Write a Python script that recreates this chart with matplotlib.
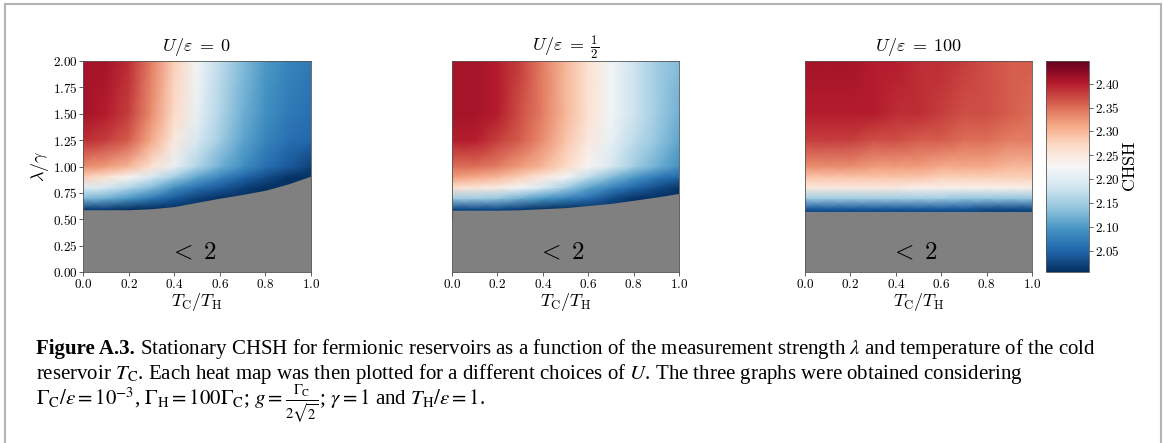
import matplotlib

matplotlib.use("Agg")
import matplotlib.pyplot as plt
import numpy as np
from matplotlib.colors import Normalize
from matplotlib.lines import Line2D

plt.rcParams["font.family"] = "serif"
plt.rcParams["font.serif"] = ["cmr10", "DejaVu Serif"]
plt.rcParams["mathtext.fontset"] = "cm"
plt.rcParams["axes.formatter.use_mathtext"] = True

t_ratio = [0.0, 0.1, 0.2, 0.3, 0.4, 0.5, 0.6, 0.7, 0.8, 0.9, 1.0]
lam = [0.5, 0.6, 0.7, 0.8, 0.9, 1.0, 1.25, 1.5, 2.0]

# CHSH, one row per lambda (bottom to top)
chsh_u0 = [
    [1.95, 1.95, 1.95, 1.95, 1.95, 1.95, 1.95, 1.95, 1.95, 1.95, 1.95],
    [2.02, 2.02, 2.01, 2.00, 1.98, 1.96, 1.95, 1.95, 1.95, 1.95, 1.95],
    [2.13, 2.12, 2.10, 2.07, 2.04, 2.02, 2.00, 1.98, 1.96, 1.95, 1.95],
    [2.20, 2.19, 2.16, 2.13, 2.09, 2.06, 2.04, 2.02, 2.00, 1.97, 1.95],
    [2.28, 2.26, 2.23, 2.19, 2.15, 2.11, 2.08, 2.05, 2.03, 2.01, 1.98],
    [2.33, 2.32, 2.30, 2.26, 2.21, 2.16, 2.12, 2.09, 2.06, 2.04, 2.02],
    [2.39, 2.38, 2.36, 2.31, 2.25, 2.19, 2.15, 2.11, 2.08, 2.06, 2.05],
    [2.41, 2.40, 2.38, 2.33, 2.27, 2.21, 2.16, 2.12, 2.09, 2.07, 2.06],
    [2.41, 2.41, 2.39, 2.34, 2.28, 2.22, 2.17, 2.13, 2.10, 2.08, 2.07],
]
chsh_u_half = [
    [1.95, 1.95, 1.95, 1.95, 1.95, 1.95, 1.95, 1.95, 1.95, 1.95, 1.95],
    [2.03, 2.03, 2.03, 2.02, 2.01, 2.00, 1.98, 1.96, 1.95, 1.95, 1.95],
    [2.15, 2.15, 2.14, 2.12, 2.10, 2.08, 2.06, 2.03, 2.01, 1.99, 1.97],
    [2.26, 2.255, 2.245, 2.22, 2.19, 2.15, 2.11, 2.08, 2.05, 2.03, 2.01],
    [2.32, 2.31, 2.30, 2.28, 2.25, 2.22, 2.17, 2.13, 2.10, 2.07, 2.05],
    [2.35, 2.35, 2.34, 2.32, 2.30, 2.27, 2.23, 2.19, 2.15, 2.12, 2.09],
    [2.40, 2.40, 2.38, 2.36, 2.33, 2.29, 2.25, 2.21, 2.17, 2.14, 2.11],
    [2.41, 2.41, 2.40, 2.37, 2.34, 2.30, 2.26, 2.22, 2.18, 2.15, 2.12],
    [2.41, 2.41, 2.40, 2.38, 2.34, 2.30, 2.26, 2.22, 2.18, 2.15, 2.13],
]
chsh_u100 = [
    [1.95, 1.95, 1.95, 1.95, 1.95, 1.95, 1.95, 1.95, 1.95, 1.95, 1.95],
    [2.04, 2.04, 2.04, 2.04, 2.04, 2.04, 2.04, 2.04, 2.03, 2.03, 2.03],
    [2.15, 2.15, 2.15, 2.15, 2.15, 2.15, 2.15, 2.14, 2.14, 2.14, 2.14],
    [2.25, 2.25, 2.25, 2.25, 2.25, 2.24, 2.24, 2.24, 2.24, 2.24, 2.24],
    [2.29, 2.29, 2.29, 2.29, 2.29, 2.29, 2.28, 2.28, 2.28, 2.28, 2.28],
    [2.33, 2.33, 2.33, 2.32, 2.32, 2.32, 2.31, 2.31, 2.31, 2.30, 2.30],
    [2.38, 2.38, 2.38, 2.37, 2.37, 2.36, 2.36, 2.35, 2.35, 2.34, 2.34],
    [2.40, 2.40, 2.40, 2.40, 2.39, 2.39, 2.38, 2.37, 2.37, 2.36, 2.35],
    [2.41, 2.41, 2.41, 2.40, 2.40, 2.39, 2.39, 2.38, 2.37, 2.36, 2.36],
]

# lambda below which CHSH < 2 (grey region)
edge_u0 = [0.59, 0.59, 0.59, 0.60, 0.62, 0.66, 0.70, 0.735, 0.775, 0.835, 0.91]
edge_u_half = [0.585, 0.585, 0.585, 0.59, 0.60, 0.61, 0.63, 0.65, 0.68, 0.71, 0.745]
edge_u100 = [0.565, 0.565, 0.565, 0.565, 0.565, 0.565, 0.565, 0.565, 0.565, 0.565, 0.565]

titles = [r"$U/\varepsilon\;=\;0$", r"$U/\varepsilon\;=\;\frac{1}{2}$", r"$U/\varepsilon\;=\;100$"]
x_ticks = [0.0, 0.2, 0.4, 0.6, 0.8, 1.0]
y_ticks = [0.0, 0.25, 0.5, 0.75, 1.0, 1.25, 1.5, 1.75, 2.0]
cbar_ticks = [2.05, 2.10, 2.15, 2.20, 2.25, 2.30, 2.35, 2.40]

W, H = 1163, 443
fig = plt.figure(figsize=(W / 100, H / 100), dpi=100)


def px_axes(x0, y0, x1, y1):
    return fig.add_axes([x0 / W, 1 - y1 / H, (x1 - x0) / W, (y1 - y0) / H])


norm = Normalize(vmin=2.005, vmax=2.448)
cmap = plt.get_cmap("RdBu_r")

boxes = [(83, 61, 311, 272), (452, 61, 679, 272), (805, 61, 1032, 272)]
panels = [(chsh_u0, edge_u0), (chsh_u_half, edge_u_half), (chsh_u100, edge_u100)]

for i, ((vals, edge), box) in enumerate(zip(panels, boxes)):
    ax = px_axes(*box)
    ax.pcolormesh(t_ratio, lam, np.array(vals), cmap=cmap, norm=norm, shading="gouraud")
    ax.fill_between(t_ratio, 0, edge, color="#808080", lw=0)
    ax.set_xlim(0, 1)
    ax.set_ylim(0, 2)
    ax.text(0.48, 0.19, r"$<\;2$", ha="center", va="center", fontsize=18)
    ax.set_title(titles[i], fontsize=13, pad=7)
    ax.set_xlabel(r"$T_\mathrm{C}/T_\mathrm{H}$", fontsize=13, labelpad=0)
    ax.set_xticks(x_ticks)
    ax.set_xticklabels([f"${t:.1f}$" for t in x_ticks])
    if i == 0:
        ax.set_yticks(y_ticks)
        ax.set_yticklabels([f"${t:.2f}$" for t in y_ticks])
        ax.set_ylabel(r"$\lambda/\gamma$", fontsize=13, labelpad=1)
    else:
        ax.set_yticks([])
    ax.tick_params(labelsize=9.5, length=3, width=0.6, pad=1, color="#444444")
    for s in ax.spines.values():
        s.set_linewidth(0.6)
        s.set_color("#555555")

cax = px_axes(1046, 61, 1089, 272)
sm = plt.cm.ScalarMappable(norm=norm, cmap=cmap)
cb = fig.colorbar(sm, cax=cax, ticks=cbar_ticks)
cb.ax.set_yticklabels([f"${t:.2f}$" for t in cbar_ticks])
cb.ax.tick_params(labelsize=9.5, length=3, width=0.6, pad=1, color="#444444")
cb.outline.set_linewidth(0.6)
cb.outline.set_edgecolor("#555555")
cb.set_label(r"$\mathrm{CHSH}$", fontsize=13, labelpad=2)

# frame round the figure (left, top, right)
frame_kw = dict(color="#b4b4b4", lw=1.5, transform=fig.transFigure)
fig.add_artist(Line2D([5 / W, 5 / W], [0, 1 - 4 / H], **frame_kw))
fig.add_artist(Line2D([5 / W, 1161 / W], [1 - 4 / H, 1 - 4 / H], **frame_kw))
fig.add_artist(Line2D([1161 / W, 1161 / W], [0, 1 - 4 / H], **frame_kw))

# caption
cap_kw = dict(family="Liberation Serif", fontsize=15, va="baseline", math_fontfamily="stix")
x0 = 36 / W
renderer = fig.canvas.get_renderer()
bold = fig.text(x0, 1 - 354 / H, "Figure A.3.", fontweight="bold", **cap_kw)
bw = bold.get_window_extent(renderer).width / W
fig.text(x0 + bw, 1 - 354 / H,
         r" Stationary CHSH for fermionic reservoirs as a function of the measurement strength $\lambda$ and temperature of the cold",
         **cap_kw)
fig.text(x0, 1 - 379 / H,
         r"reservoir $T_\mathrm{C}$. Each heat map was then plotted for a different choices of $U$. The three graphs were obtained considering",
         **cap_kw)
fig.text(x0, 1 - 405 / H,
         r"$\Gamma_\mathrm{C}/\varepsilon = 10^{-3}$, $\Gamma_\mathrm{H} = 100\Gamma_\mathrm{C}$; $g = \frac{\Gamma_\mathrm{C}}{2\sqrt{2}}$; $\gamma = 1$ and $T_\mathrm{H}/\varepsilon = 1$.",
         **cap_kw)

fig.savefig("out.png", dpi=100)
